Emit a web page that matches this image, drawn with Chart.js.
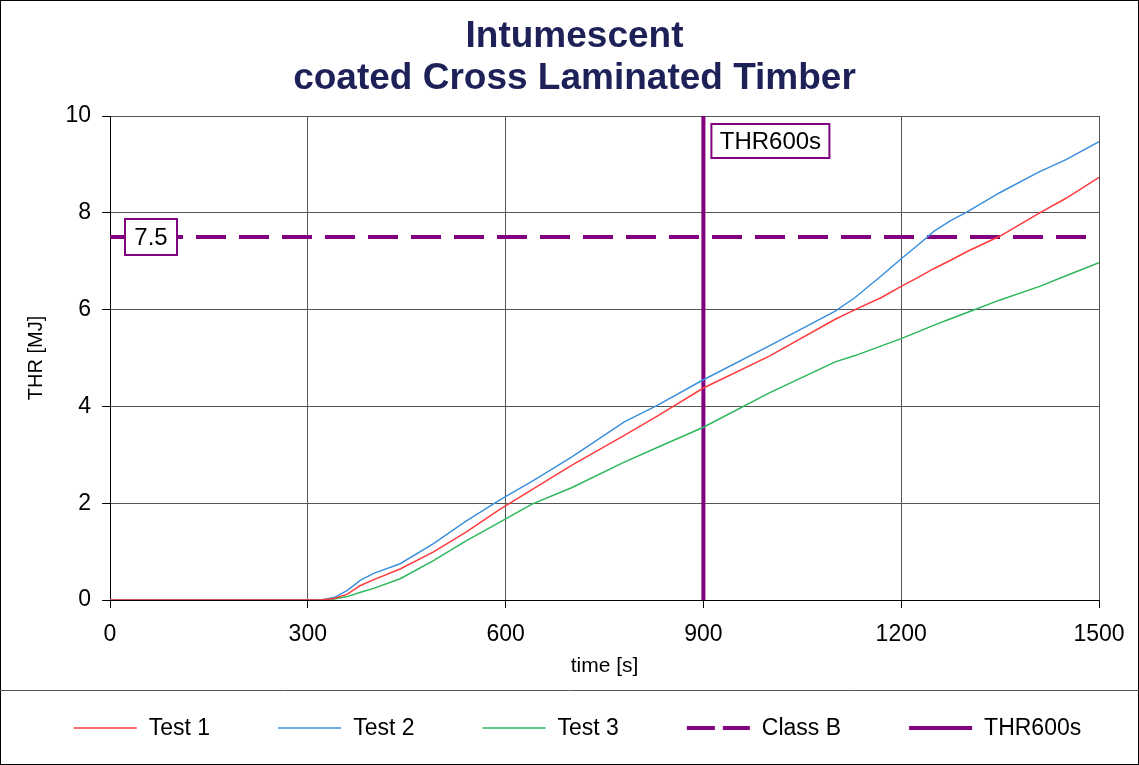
<!DOCTYPE html>
<html>
<head>
<meta charset="utf-8">
<script src="https://cdn.jsdelivr.net/npm/chart.js@4.4.0/dist/chart.umd.min.js"></script>
<style>
  html, body { margin: 0; padding: 0; background: #fff; }
  #wrap { width: 1139px; height: 765px; }
</style>
</head>
<body>
<div id="wrap"><canvas id="thrChart" width="1139" height="765"></canvas></div>
<script>
// time [s] and THR [MJ]
const times = [0, 300, 320, 340, 360, 380, 400, 440, 490, 540, 590, 640, 700, 780, 830, 900, 1000, 1100, 1130, 1170, 1200, 1225, 1250, 1275, 1300, 1350, 1410, 1450, 1500];
const test1 = [0, 0, 0, 0.03, 0.12, 0.3, 0.42, 0.64, 0.99, 1.4, 1.86, 2.28, 2.78, 3.4, 3.8, 4.38, 5.04, 5.8, 6.0, 6.25, 6.48, 6.66, 6.85, 7.02, 7.2, 7.52, 8.0, 8.3, 8.73];
const test2 = [0, 0, 0, 0.05, 0.2, 0.41, 0.55, 0.75, 1.16, 1.63, 2.06, 2.45, 2.95, 3.68, 4.02, 4.55, 5.25, 5.97, 6.25, 6.7, 7.05, 7.33, 7.62, 7.84, 8.02, 8.42, 8.85, 9.1, 9.47];
const test3 = [0, 0, 0, 0.02, 0.07, 0.16, 0.24, 0.44, 0.81, 1.22, 1.6, 1.98, 2.32, 2.85, 3.15, 3.57, 4.28, 4.92, 5.05, 5.25, 5.4, 5.54, 5.68, 5.81, 5.94, 6.2, 6.48, 6.7, 6.97];

const classBLimit = 7.5;   // MJ
const thrTime = 900;       // s
const xTicks = [0, 300, 600, 900, 1200, 1500];
const yTicks = [0, 2, 4, 6, 8, 10];

const titleLines = ["Intumescent", "coated Cross Laminated Timber"];
const seriesNames = ["Test 1", "Test 2", "Test 3", "Class B", "THR600s"];

const FONT = "'Liberation Sans', Arial, sans-serif";
const PURPLE = "#800080";

function pts(xs, ys) {
  return xs.map((x, i) => ({ x: x, y: ys[i] }));
}

// titles, frame, legend and the two value tags
const decorPlugin = {
  id: "decor",
  afterDraw(chart) {
    const ctx = chart.ctx;
    const W = chart.width, H = chart.height;
    const xs = chart.scales.x, ys = chart.scales.y;
    ctx.save();

    // outer frame + legend separator
    ctx.strokeStyle = "#000";
    ctx.lineWidth = 1;
    ctx.strokeRect(0.5, 0.5, W - 1, H - 1);
    ctx.strokeStyle = "#555";
    ctx.beginPath();
    ctx.moveTo(0, 690.5);
    ctx.lineTo(W, 690.5);
    ctx.stroke();

    // title
    ctx.fillStyle = "#1e2157";
    ctx.font = "bold 37px " + FONT;
    ctx.textAlign = "center";
    ctx.textBaseline = "alphabetic";
    ctx.fillText(titleLines[0], W / 2 + 5, 47);
    ctx.fillText(titleLines[1], W / 2 + 5, 89);

    // tag boxes
    ctx.font = "24px " + FONT;
    ctx.textBaseline = "middle";
    ctx.textAlign = "center";
    function tag(text, left, cy, w, h) {
      ctx.fillStyle = "#fff";
      ctx.fillRect(left, cy - h / 2, w, h);
      ctx.strokeStyle = PURPLE;
      ctx.lineWidth = 2;
      ctx.strokeRect(left, cy - h / 2, w, h);
      ctx.fillStyle = "#000";
      ctx.fillText(text, left + w / 2, cy + 1);
    }
    tag(String(classBLimit), xs.getPixelForValue(0) + 15, ys.getPixelForValue(classBLimit), 52, 36);
    tag(seriesNames[4], xs.getPixelForValue(thrTime) + 8, ys.top + 25, 118, 34);

    // legend
    const ds = chart.data.datasets;
    const lineLen = 63, gapText = 12, gapItem = 68, ly = 728;
    ctx.font = "23px " + FONT;
    ctx.textAlign = "left";
    let total = 0;
    ds.forEach((d, i) => {
      total += lineLen + gapText + ctx.measureText(d.label).width + (i < ds.length - 1 ? gapItem : 0);
    });
    let x = (W - total) / 2 + 8;
    ds.forEach(d => {
      ctx.strokeStyle = d.borderColor;
      ctx.lineWidth = d.borderWidth;
      ctx.setLineDash(d.borderDash ? [28, 8] : []);
      ctx.beginPath();
      ctx.moveTo(x, ly);
      ctx.lineTo(x + lineLen, ly);
      ctx.stroke();
      ctx.setLineDash([]);
      ctx.fillStyle = "#000";
      ctx.fillText(d.label, x + lineLen + gapText, ly + 1);
      x += lineLen + gapText + ctx.measureText(d.label).width + gapItem;
    });

    ctx.restore();
  }
};

const ctx = document.getElementById("thrChart").getContext("2d");

new Chart(ctx, {
  type: "line",
  data: {
    datasets: [
      { label: seriesNames[0], data: pts(times, test1), borderColor: "#ff3b3b", borderWidth: 1.5 },
      { label: seriesNames[1], data: pts(times, test2), borderColor: "#3b8fdc", borderWidth: 1.5 },
      { label: seriesNames[2], data: pts(times, test3), borderColor: "#2cb85a", borderWidth: 1.5 },
      { label: seriesNames[3], data: pts([0, 1500], [classBLimit, classBLimit]), borderColor: PURPLE, borderWidth: 4, borderDash: [30, 13] },
      { label: seriesNames[4], data: pts([thrTime, thrTime], [0, 10]), borderColor: PURPLE, borderWidth: 4 }
    ]
  },
  options: {
    responsive: false,
    animation: false,
    elements: {
      point: { radius: 0 },
      line: { tension: 0, fill: false }
    },
    layout: { padding: { top: 116, left: 20, right: 40, bottom: 82 } },
    plugins: {
      legend: { display: false },
      tooltip: { enabled: false },
      title: { display: false }
    },
    scales: {
      x: {
        type: "linear",
        min: 0,
        max: 1500,
        afterBuildTicks(scale) { scale.ticks = xTicks.map(v => ({ value: v })); },
        afterFit(scale) { scale.height = 83; },
        ticks: { color: "#000", font: { family: FONT, size: 23 }, padding: 13, maxRotation: 0, callback: v => String(v) },
        grid: { color: "#555", lineWidth: 1, tickLength: 8, tickColor: "#000" },
        border: { color: "#000", width: 1 },
        title: { display: true, text: "time [s]", color: "#000", font: { family: FONT, size: 21 }, padding: { top: 4 } }
      },
      y: {
        type: "linear",
        min: 0,
        max: 10,
        afterBuildTicks(scale) { scale.ticks = yTicks.map(v => ({ value: v })); },
        afterFit(scale) { scale.width = 90; },
        ticks: { color: "#000", font: { family: FONT, size: 23 }, padding: 11, callback: v => String(v) },
        grid: { color: "#555", lineWidth: 1, tickLength: 8, tickColor: "#000" },
        border: { color: "#000", width: 1 },
        title: { display: true, text: "THR [MJ]", color: "#000", font: { family: FONT, size: 20 }, padding: { bottom: 4 } }
      }
    }
  },
  plugins: [decorPlugin]
});
</script>
</body>
</html>
